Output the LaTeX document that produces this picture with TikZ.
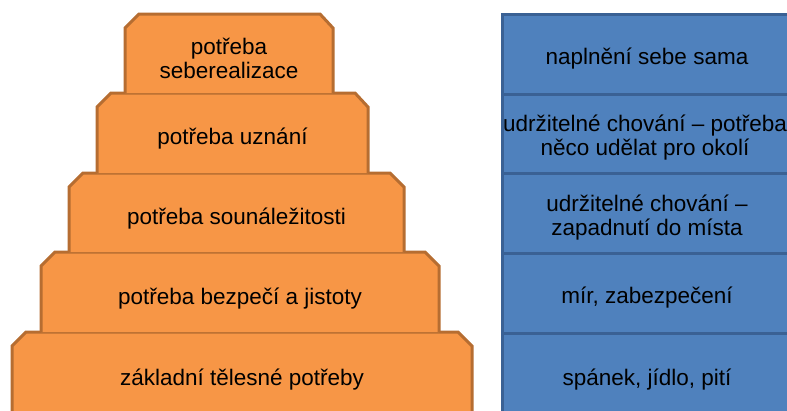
\documentclass[tikz,border=0pt]{standalone}
\usepackage{fontspec}
\setmainfont{Liberation Sans}
\definecolor{ofill}{HTML}{F79646}
\definecolor{oline}{HTML}{B66D31}
\definecolor{bfill}{HTML}{4F81BD}
\definecolor{bline}{HTML}{3A6194}
\tikzset{
  obox/.style={fill=ofill, draw=oline, line width=3pt, line join=miter},
  bbox/.style={fill=bfill, draw=bline, line width=3pt},
  lbl/.style={align=center, font=\fontsize{22.5}{24}\selectfont, text=black, inner sep=0pt}
}
\begin{document}
\begin{tikzpicture}[x=1pt,y=-1pt]
\useasboundingbox (0,0) rectangle (787,410);
\clip (0,0) rectangle (787,410);
% orange pyramid (bottom first)
\draw[obox] (12,430) -- (12,346) -- (26,332) -- (458,332) -- (472,346) -- (472,430);
\draw[obox] (41,332) -- (41,266) -- (55,252) -- (425,252) -- (439,266) -- (439,332);
\draw[obox] (69,252) -- (69,187) -- (83,173) -- (390,173) -- (404,187) -- (404,252);
\draw[obox] (97,173) -- (97,107) -- (111,93) -- (355,93) -- (368,107) -- (368,173);
\draw[obox] (125,93) -- (125,28) -- (139,14) -- (320,14) -- (333,28) -- (333,93);
\node[lbl] (o1) at (229,58) {potřeba\\seberealizace};
\node[lbl] (o2) at (232.5,139) {potřeba uznání};
\node[lbl] (o3) at (236.5,219) {potřeba sounáležitosti};
\node[lbl] (o4) at (240,299) {potřeba bezpečí a jistoty};
\node[lbl] (o5) at (242,380) {základní tělesné potřeby};
% blue column
\draw[bbox] (502,333) rectangle (795,430);
\draw[bbox] (502,253) rectangle (795,333);
\draw[bbox] (502,173) rectangle (795,253);
\draw[bbox] (502,94) rectangle (795,173);
\draw[bbox] (502,14) rectangle (795,94);
\node[lbl] (b1) at (647,59) {naplnění sebe sama};
\node[lbl] (b2) at (645,138) {udržitelné chování – potřeba\\něco udělat pro okolí};
\node[lbl] (b3) at (647,218) {udržitelné chování –\\zapadnutí do místa};
\node[lbl] (b4) at (647,298) {mír, zabezpečení};
\node[lbl] (b5) at (647,380) {spánek, jídlo, pití};
\end{tikzpicture}
\end{document}
